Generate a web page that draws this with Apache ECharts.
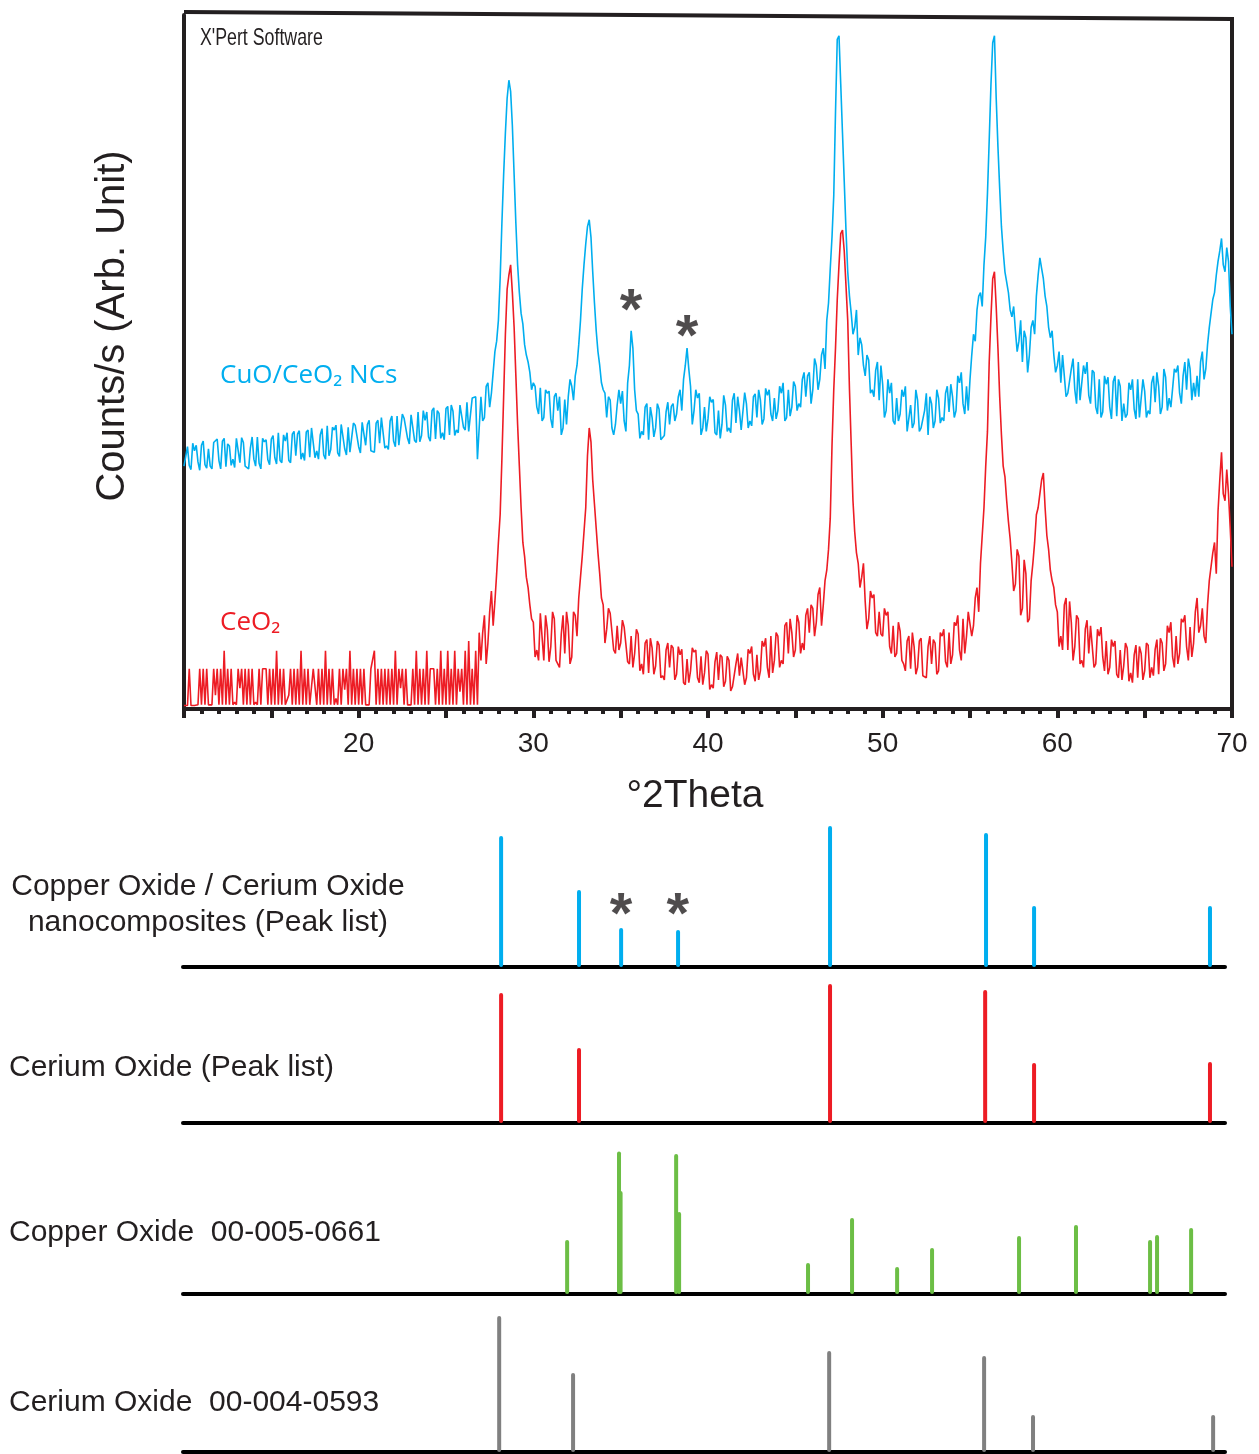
<!DOCTYPE html>
<html><head><meta charset="utf-8">
<script src="https://cdn.jsdelivr.net/npm/echarts/dist/echarts.min.js"></script>
<style>html,body{margin:0;padding:0;background:#fff}#c{width:1259px;height:1454px}</style>
</head><body><div id="c"></div><script>
// ---- XRD patterns: values read on a 0.1 deg 2theta grid, split into
// "even" points (10.0, 10.2, ... 70.0) and "odd" points (10.1, 10.3, ... 69.9) ----
const thetaStart = 10.0;
const thetaStep = 0.2;
const cuoCeo2Even = [
35.0,37.8,34.5,37.2,35.6, 38.0,35.2,37.5,34.6,38.2, 35.8,38.6,34.9,37.9,36.0, 39.0,35.5,38.4,34.8,37.6,
36.0,39.2,34.6,38.5,35.9, 38.9,36.2,39.8,35.5,38.6, 35.8,39.6,36.5,40.1,36.9, 39.9,36.3,40.4,37.2,39.5,
36.6,40.8,37.4,40.2,36.9, 41.0,37.5,40.6,36.8,40.9, 37.8,41.3,38.0,41.6,37.4, 41.2,38.3,42.0,37.9,41.5,
38.6,42.2,38.2,41.9,39.0, 42.4,38.7,42.8,39.4,41.6, 39.2,43.0,38.9,42.6,39.8, 43.3,39.5,42.9,40.2,43.8,
40.6,44.2,40.0,44.6,36.0, 45.0,42.0,47.0,45.5,51.5, 56.0,70.0,83.0,90.6,84.0, 70.0,60.0,55.5,51.0,48.5,
47.0,43.5,46.3,42.0,45.5, 41.8,45.0,43.0,39.5,44.6, 45.0,46.5,48.0,52.5,60.5, 67.0,70.5,63.0,54.5,49.5,
46.0,42.0,44.5,39.5,43.8, 44.0,41.5,47.0,54.5,46.0, 42.5,40.0,43.5,38.8,42.0, 40.5,43.2,39.0,42.8,41.0,
44.0,42.5,46.0,47.5,52.0, 46.5,43.0,44.8,39.5,43.5, 41.8,44.2,39.8,43.0,41.0, 43.8,40.5,44.5,41.2,43.0,
40.2,44.0,41.5,45.0,42.0, 44.5,41.8,45.2,42.5,44.8, 43.0,45.5,41.5,46.0,43.5, 46.5,44.0,47.5,45.0,48.5,
46.0,49.5,47.5,52.0,56.0, 63.5,74.0,96.5,90.0,76.0, 63.0,57.0,55.0,51.0,52.5, 48.0,50.3,46.0,48.8,44.5,
46.8,43.0,45.5,41.5,44.8, 42.5,45.0,40.0,43.8,41.2, 44.5,40.5,43.0,39.5,44.0, 41.5,44.8,42.0,45.5,42.8,
45.0,43.0,47.0,44.0,46.5, 47.5,54.0,57.5,60.0,64.0, 74.3,90.0,97.0,81.0,69.5, 63.0,60.0,56.5,54.5,53.0,
50.0,53.5,51.0,56.0,59.5, 65.0,62.0,58.0,53.5,51.0, 49.5,47.0,50.8,45.5,49.0, 46.0,50.0,44.5,48.3,45.2,
48.8,43.5,47.5,42.8,46.8, 43.5,47.2,42.2,46.5,44.0, 42.5,46.0,43.2,47.5,42.0, 45.8,43.0,47.0,44.2,46.5,
43.5,47.8,44.8,46.2,48.5, 45.5,48.0,46.0,49.0,47.0, 48.0,50.0,47.5,52.5,57.0, 60.0,64.5,67.8,63.0,64.5,
54.0];
const cuoCeo2Odd = [
34.8,35.1,38.3,38.0,34.4, 38.6,34.7,35.0,38.4,38.9, 34.6,39.0,38.2,35.1,34.8, 38.8,39.1,35.0,34.6,39.2,
35.0,35.4,39.0,38.8,35.2, 39.4,35.3,35.8,39.5,39.8, 35.5,40.0,39.6,36.0,35.8, 40.2,40.5,36.2,36.0,40.4,
36.0,36.5,40.6,40.9,36.4, 40.8,36.6,37.0,41.2,41.0, 36.9,41.5,41.0,37.2,37.0, 41.6,42.0,37.6,37.4,42.2,
37.8,38.0,42.5,42.0,38.2, 42.6,38.4,38.5,43.0,42.8, 38.6,43.4,43.0,39.0,38.8, 43.6,43.8,39.4,39.8,44.0,
40.2,40.0,44.8,45.0,40.5, 41.5,46.5,43.5,48.5,53.0, 62.0,77.0,88.0,89.0,77.0, 64.0,57.0,52.5,50.0,46.0,
46.5,42.5,41.5,46.0,45.8, 40.5,45.5,45.0,40.5,41.0, 47.5,44.5,49.5,56.0,64.0, 69.5,68.0,58.5,51.5,47.0,
45.5,45.0,40.5,41.0,46.0, 45.8,40.0,49.5,52.0,43.0, 39.0,39.5,44.0,43.5,39.2, 44.0,38.8,39.4,44.2,43.6,
41.5,45.0,43.0,49.5,49.0, 41.0,46.0,45.5,40.5,40.0, 45.0,44.6,39.5,39.0,45.2, 40.0,39.8,45.5,45.0,40.2,
45.6,40.5,40.8,45.4,46.0, 41.0,46.2,46.0,41.5,41.8, 46.5,47.0,42.0,42.2,47.2, 43.0,43.5,48.5,48.0,44.0,
50.5,46.0,51.0,49.0,58.5, 68.0,86.0,97.0,83.0,69.0, 59.5,54.0,57.5,53.5,49.5, 51.0,45.5,45.0,50.0,49.5,
42.0,47.5,47.0,41.0,41.5, 46.0,46.5,40.2,40.5,46.0, 40.0,40.5,45.5,45.0,40.5, 46.0,41.2,41.5,46.5,46.8,
42.0,48.0,48.5,42.5,43.0, 51.0,53.0,59.5,58.0,68.0, 82.0,96.0,88.0,75.0,66.0, 61.5,57.5,58.0,51.5,56.0,
54.5,48.5,55.0,54.0,62.5, 63.5,59.5,55.0,54.5,48.5, 51.5,51.0,45.0,45.5,50.5, 44.0,44.5,49.5,50.0,44.0,
48.5,42.5,42.0,48.0,47.8, 41.8,48.0,47.5,41.5,42.0, 47.0,47.5,41.8,42.0,47.5, 42.0,42.5,48.0,48.5,42.5,
49.0,43.0,43.5,49.0,49.5, 44.0,50.0,50.5,44.5,45.0, 45.0,51.5,49.0,55.0,59.0, 62.5,66.0,64.0,66.5,58.0];
const ceo2Even = [
0.5,0.5,0.5,0.5,0.6, 0.6,0.6,0.6,0.6,2.0, 0.6,0.6,0.6,0.6,0.6, 0.6,3.0,0.6,0.6,0.6,
0.6,0.6,0.6,5.8,0.6, 0.6,0.6,0.6,0.6,0.6, 2.0,0.6,0.6,0.6,0.6, 0.6,0.6,5.8,0.6,0.6,
0.6,0.6,0.6,0.6,0.6, 0.6,2.8,0.6,0.6,0.6, 0.6,0.6,0.6,0.6,5.8, 0.6,0.6,0.6,0.6,0.6,
0.6,0.6,3.0,0.6,0.6, 0.6,0.6,0.6,0.6,0.6, 0.6,5.8,0.6,0.6,0.6, 0.6,0.6,0.6,0.6,2.5,
0.6,0.6,0.6,0.6,0.6, 7.0,13.5,9.5,17.0,15.5, 24.0,36.0,54.0,62.5,60.0, 48.0,35.0,24.0,19.0,15.0,
12.5,8.5,13.8,7.0,11.5, 9.0,13.0,6.5,10.8,8.0, 12.0,7.5,13.5,16.0,22.0, 29.0,40.5,33.0,26.0,19.5,
15.0,11.5,13.8,8.5,12.0, 9.5,11.8,6.8,10.5,8.0, 10.8,6.5,9.5,5.2,8.8, 6.2,9.2,4.8,8.5,6.0,
8.8,5.0,7.8,3.8,7.2, 5.5,8.2,4.5,7.6,5.2, 7.9,3.5,6.8,4.2,7.5, 4.0,7.0,3.2,6.5,4.8,
7.2,4.5,8.0,5.0,7.8, 5.5,9.0,6.0,10.5,7.0, 10.5,7.0,12.0,8.0,11.0, 8.5,12.5,9.5,13.5,11.0,
14.5,12.5,17.5,15.0,20.0, 27.5,46.0,59.0,68.5,66.0, 56.0,38.0,25.5,21.0,19.0, 15.5,13.0,16.0,11.0,14.0,
10.5,13.5,9.0,12.0,8.0, 11.2,6.5,9.8,5.8,9.0, 6.0,10.2,5.0,9.0,6.5, 9.5,5.5,10.5,6.8,11.0,
7.8,12.0,8.5,13.0,10.5, 14.0,12.0,17.5,21.0,29.0, 40.0,56.5,63.0,52.0,39.5, 33.5,27.0,21.0,18.0,22.0,
14.5,19.5,13.0,21.0,28.0, 31.0,34.0,25.0,20.0,17.5, 14.0,10.5,15.0,8.5,12.5, 9.0,13.0,7.0,11.5,8.0,
12.0,6.5,10.5,7.5,9.8, 6.0,9.0,5.0,8.5,6.2, 8.8,5.2,7.8,4.5,8.0, 5.5,9.2,6.0,8.6,5.0,
9.5,6.5,11.0,7.5,10.5, 8.0,12.5,9.0,11.8,9.5, 16.0,12.0,10.5,15.0,20.5, 24.0,28.5,37.0,30.0,31.0,
20.5];
const ceo2Odd = [
0.5,5.8,0.5,0.5,5.8, 5.8,5.8,0.6,5.8,5.8, 5.8,8.4,5.8,5.8,1.0, 5.8,5.8,5.8,5.8,5.8,
1.0,5.8,5.8,5.8,5.8, 5.8,8.4,5.8,5.8,0.6, 5.8,5.8,5.8,8.4,5.8, 5.8,0.6,5.8,5.8,5.8,
8.4,5.8,5.8,1.5,5.8, 5.8,5.8,8.4,5.8,5.8, 5.8,5.8,0.6,5.8,8.4, 5.8,5.8,5.8,5.8,5.8,
8.4,5.8,5.8,5.8,0.6, 5.8,8.4,5.8,5.8,8.4, 5.8,5.8,5.8,8.4,5.8, 8.4,5.8,8.4,5.8,5.8,
8.4,9.8,5.8,8.4,11.0, 11.0,6.5,14.0,12.0,19.5, 28.0,45.0,60.5,64.0,55.0, 41.0,29.0,22.0,17.5,13.0,
7.5,7.0,14.0,13.5,6.8, 14.0,7.0,6.0,13.5,14.0, 6.5,14.0,10.5,19.0,25.5, 36.5,38.5,29.5,22.5,16.0,
9.5,14.5,14.0,8.0,8.5, 12.8,12.0,6.5,6.0,11.5, 5.5,5.0,10.0,10.2,5.0, 9.8,4.5,4.2,9.5,9.2,
4.2,9.0,8.6,3.5,3.8, 8.8,8.5,3.8,3.5,8.4, 2.8,3.0,8.2,7.8,3.2, 7.6,2.6,3.0,8.0,7.4,
3.5,8.6,9.0,4.0,4.2, 9.8,10.2,4.5,5.2,11.0, 6.0,6.5,12.5,13.0,7.5, 13.5,8.0,8.5,14.5,15.0,
10.5,16.5,12.0,18.5,23.0, 38.0,52.0,64.0,69.0,61.0, 46.0,30.0,22.5,17.5,21.0, 11.5,17.0,16.5,10.5,10.8,
14.5,14.0,8.0,7.5,12.5, 7.0,5.5,10.5,11.0,5.0, 9.8,4.8,4.5,10.5,10.0, 5.0,11.0,11.5,6.0,6.5,
12.5,13.5,7.0,8.0,14.0, 10.5,16.0,14.0,25.0,35.0, 50.0,62.0,58.0,45.0,35.0, 30.0,24.5,17.0,23.0,13.5,
21.5,12.5,18.5,24.0,29.0, 33.0,29.0,23.0,18.5,15.0, 9.0,8.5,16.0,15.5,7.0, 13.5,6.5,6.0,12.8,12.0,
6.0,11.5,11.8,5.5,5.0, 10.0,9.8,4.5,4.2,9.5, 4.0,3.8,9.2,9.0,4.2, 9.5,4.5,4.8,10.0,10.2,
5.5,12.0,12.5,6.0,6.5, 13.0,13.5,7.0,7.5,14.0, 11.0,14.5,9.5,18.5,22.5, 19.5,33.0,31.0,34.5,26.0];
const xTickLabels = ['20','30','40','50','60','70'];

// ---- Peak lists (2theta, relative intensity) ----
const ncPeakPos = [28.66, 33.12, 35.53, 38.79, 47.49, 56.42, 59.17, 69.24];
const ncPeakInt = [92.8, 54.0, 26.6, 25.2, 100, 95.0, 42.4, 42.4];
const ceoPeakPos = [28.66, 33.12, 47.49, 56.37, 59.17, 69.24];
const ceoPeakInt = [92.0, 52.5, 98.6, 94.2, 41.7, 42.4];
const cuoRefPos = [32.44, 35.41, 35.50, 38.68, 38.85, 46.23, 48.75, 51.33, 53.33, 58.31, 61.57, 65.81, 66.21, 68.16];
const cuoRefInt = [37.4, 101.0, 72.7, 99.3, 57.6, 20.9, 53.2, 18.0, 31.7, 40.3, 48.2, 37.4, 41.0, 46.0];
const ceoRefPos = [28.55, 32.78, 47.44, 56.31, 59.11, 69.42];
const ceoRefInt = [96.4, 55.4, 71.2, 67.6, 25.2, 25.2];
const starTop = [[35.59, 57.1], [38.80, 53.3]];
const starPanel = [[35.52, 36], [38.78, 36]];

const panelLabels = [
  ['Copper Oxide / Cerium Oxide', 'nanocomposites (Peak list)'],
  ['Cerium Oxide (Peak list)'],
  ['Copper Oxide  00-005-0661'],
  ['Cerium Oxide  00-004-0593']
];

const BLUE = '#00AEEF', RED = '#ED1C24', GREEN = '#6CBE45', GRAY = '#808080', INK = '#231F20';
const FONT = '"Liberation Sans", Arial, sans-serif';

function merge(even, odd) {
  const out = [];
  for (let i = 0; i < even.length; i++) {
    out.push([+(thetaStart + i * thetaStep).toFixed(1), even[i]]);
    if (i < odd.length) out.push([+(thetaStart + thetaStep / 2 + i * thetaStep).toFixed(1), odd[i]]);
  }
  return out;
}
function zip(a, b) { return a.map((x, i) => [x, b[i]]); }

const chart = echarts.init(document.getElementById('c'), null, {renderer: 'canvas'});

const panelBase = [967, 1123, 1294, 1452];
const panelH = 139;
const grids = [{left: 184, top: 15, width: 1048, height: 694}];
panelBase.forEach(b => grids.push({left: 183, top: b - panelH, width: 1042, height: panelH}));

const xAxes = [{
  gridIndex: 0, type: 'value', min: 10, max: 70, interval: 5,
  axisLine: {lineStyle: {color: INK, width: 4}},
  axisTick: {show: true, length: 9, lineStyle: {color: INK, width: 4}},
  minorTick: {show: true, splitNumber: 5, length: 5, lineStyle: {color: INK, width: 4}},
  axisLabel: {margin: 21, fontSize: 28, fontFamily: FONT, color: INK,
    formatter: v => { const s = String(Math.round(v)); return xTickLabels.indexOf(s) >= 0 && Math.abs(v - Math.round(v)) < 1e-6 ? s : ''; }},
  splitLine: {show: false}
}];
const yAxes = [{gridIndex: 0, type: 'value', min: 0, max: 100,
  axisLine: {show: true, lineStyle: {color: INK, width: 4}}, axisTick: {show: false},
  axisLabel: {show: false}, splitLine: {show: false}}];
for (let i = 1; i <= 4; i++) {
  xAxes.push({gridIndex: i, type: 'value', min: 10.45, max: 70.1,
    axisLine: {lineStyle: {color: '#000', width: 4}}, axisTick: {show: false},
    axisLabel: {show: false}, splitLine: {show: false}});
  yAxes.push({gridIndex: i, type: 'value', min: 0, max: 100, show: false});
}

function sticks(idx, pos, inten, color) {
  return {
    type: 'custom', xAxisIndex: idx, yAxisIndex: idx, data: zip(pos, inten), clip: false,
    renderItem: (params, api) => {
      const p0 = api.coord([api.value(0), 0]);
      const p1 = api.coord([api.value(0), api.value(1)]);
      return {type: 'line', shape: {x1: p0[0], y1: p0[1] - 2, x2: p1[0], y2: p1[1]},
        style: {stroke: color, lineWidth: 4, lineCap: 'round'}};
    }
  };
}
function stars(idx, pts) {
  return {type: 'scatter', xAxisIndex: idx, yAxisIndex: idx, data: pts, symbolSize: 1,
    itemStyle: {color: 'rgba(0,0,0,0)'}, silent: true,
    label: {show: true, position: 'inside', formatter: '*', fontSize: 58, fontWeight: 'bold', fontFamily: FONT, color: INK}};
}

const graphics = [
  {type: 'polyline', shape: {points: [[184, 12], [1232, 19], [1232, 710]]},
   style: {stroke: INK, lineWidth: 4, fill: null, lineJoin: 'miter'}},
  {type: 'text', x: 200, y: 38, scaleX: 0.74, style: {text: "X'Pert Software", font: '24px ' + FONT, fill: INK, align: 'left', verticalAlign: 'middle'}},
  {type: 'text', x: 113, y: 326, rotation: Math.PI / 2, style: {text: 'Counts/s (Arb. Unit)', font: '40px ' + FONT, fill: INK, align: 'center', verticalAlign: 'middle'}},
  {type: 'text', x: 695, y: 796, style: {text: '°2Theta', font: '39px ' + FONT, fill: INK, align: 'center', verticalAlign: 'middle'}},
  {type: 'text', x: 220, y: 376, style: {text: 'CuO/CeO₂ NCs', font: '26px "Open Sans", sans-serif', fill: BLUE, align: 'left', verticalAlign: 'middle'}},
  {type: 'text', x: 220, y: 623, style: {text: 'CeO₂', font: '26px "Open Sans", sans-serif', fill: RED, align: 'left', verticalAlign: 'middle'}},
  {type: 'text', x: 208, y: 887, style: {text: panelLabels[0][0], font: '30px ' + FONT, fill: INK, align: 'center', verticalAlign: 'middle'}},
  {type: 'text', x: 208, y: 923, style: {text: panelLabels[0][1], font: '30px ' + FONT, fill: INK, align: 'center', verticalAlign: 'middle'}},
  {type: 'text', x: 9, y: 1068, style: {text: panelLabels[1][0], font: '30px ' + FONT, fill: INK, align: 'left', verticalAlign: 'middle'}},
  {type: 'text', x: 9, y: 1233, style: {text: panelLabels[2][0], font: '30px ' + FONT, fill: INK, align: 'left', verticalAlign: 'middle'}},
  {type: 'text', x: 9, y: 1403, style: {text: panelLabels[3][0], font: '30px ' + FONT, fill: INK, align: 'left', verticalAlign: 'middle'}}
];

chart.setOption({
  animation: false,
  backgroundColor: '#fff',
  grid: grids,
  xAxis: xAxes,
  yAxis: yAxes,
  graphic: graphics,
  series: [
    {type: 'line', xAxisIndex: 0, yAxisIndex: 0, data: merge(cuoCeo2Even, cuoCeo2Odd), showSymbol: false,
     lineStyle: {color: BLUE, width: 1.6}, z: 2},
    {type: 'line', xAxisIndex: 0, yAxisIndex: 0, data: merge(ceo2Even, ceo2Odd), showSymbol: false,
     lineStyle: {color: RED, width: 1.6}, z: 3},
    stars(0, starTop),
    sticks(1, ncPeakPos, ncPeakInt, BLUE),
    stars(1, starPanel),
    sticks(2, ceoPeakPos, ceoPeakInt, RED),
    sticks(3, cuoRefPos, cuoRefInt, GREEN),
    sticks(4, ceoRefPos, ceoRefInt, GRAY)
  ]
});
</script></body></html>
